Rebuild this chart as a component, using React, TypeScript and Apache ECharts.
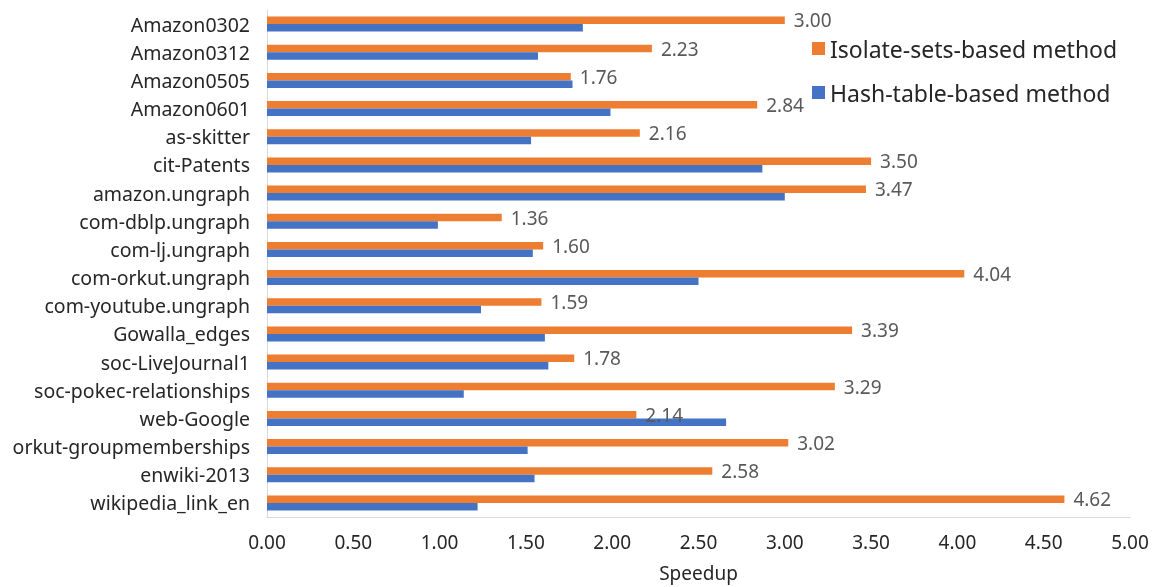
import React, { useEffect, useRef } from "react";
import * as echarts from "echarts";

const categories = [
  "Amazon0302", "Amazon0312", "Amazon0505", "Amazon0601", "as-skitter", "cit-Patents",
  "amazon.ungraph", "com-dblp.ungraph", "com-lj.ungraph", "com-orkut.ungraph",
  "com-youtube.ungraph", "Gowalla_edges", "soc-LiveJournal1", "soc-pokec-relationships",
  "web-Google", "orkut-groupmemberships", "enwiki-2013", "wikipedia_link_en",
];
const isolateValues = [3.0, 2.23, 1.76, 2.84, 2.16, 3.5, 3.47, 1.36, 1.6, 4.04, 1.59, 3.39, 1.78, 3.29, 2.14, 3.02, 2.58, 4.62];
const hashValues = [1.83, 1.57, 1.77, 1.99, 1.53, 2.87, 3.0, 0.99, 1.54, 2.5, 1.24, 1.61, 1.63, 1.14, 2.66, 1.51, 1.55, 1.22];
const xTicks = [0, 0.5, 1, 1.5, 2, 2.5, 3, 3.5, 4, 4.5, 5];

const FONT = "'Noto Sans', sans-serif";

export default function App() {
  const ref = useRef<HTMLDivElement>(null);
  useEffect(() => {
    if (!ref.current) return;
    const chart = echarts.init(ref.current, undefined, { renderer: "svg" });
    chart.setOption({
      animation: false,
      textStyle: { fontFamily: FONT },
      grid: { left: 267, right: 35, top: 10, bottom: 66, containLabel: false },
      legend: {
        orient: "vertical",
        left: 807,
        top: 32,
        itemWidth: 13,
        itemHeight: 13,
        itemGap: 21,
        icon: "rect",
        data: ["Isolate-sets-based method", "Hash-table-based method"],
        textStyle: { fontSize: 23, color: "#262626", fontFamily: FONT },
      },
      xAxis: {
        type: "value",
        min: xTicks[0],
        max: xTicks[xTicks.length - 1],
        interval: 0.5,
        name: "Speedup",
        nameLocation: "middle",
        nameGap: 46,
        nameTextStyle: { fontSize: 19, color: "#262626", fontFamily: FONT },
        axisLine: { show: true, lineStyle: { color: "#d9d9d9" } },
        axisTick: { show: false },
        splitLine: { show: false },
        axisLabel: {
          fontSize: 19,
          color: "#262626",
          margin: 15,
          formatter: (v: number) => v.toFixed(2),
        },
      },
      yAxis: {
        type: "category",
        data: categories,
        inverse: true,
        axisLine: { show: true, lineStyle: { color: "#d9d9d9" } },
        axisTick: { show: false },
        axisLabel: { fontSize: 19.5, color: "#262626", margin: 17 },
      },
      series: [
        {
          name: "Isolate-sets-based method",
          type: "bar",
          data: isolateValues,
          itemStyle: { color: "#ed7d31" },
          barGap: "0%",
          barCategoryGap: "47%",
          label: {
            show: true,
            position: "right",
            distance: 9,
            fontSize: 19,
            color: "#595959",
            formatter: (p: any) => Number(p.value).toFixed(2),
          },
        },
        {
          name: "Hash-table-based method",
          type: "bar",
          data: hashValues,
          itemStyle: { color: "#4472c4" },
          barGap: "0%",
          barCategoryGap: "47%",
        },
      ],
    });
    return () => chart.dispose();
  }, []);
  return (
    <div
      ref={ref}
      style={{ position: "fixed", left: 0, top: 0, width: 1165, height: 587 }}
    />
  );
}
